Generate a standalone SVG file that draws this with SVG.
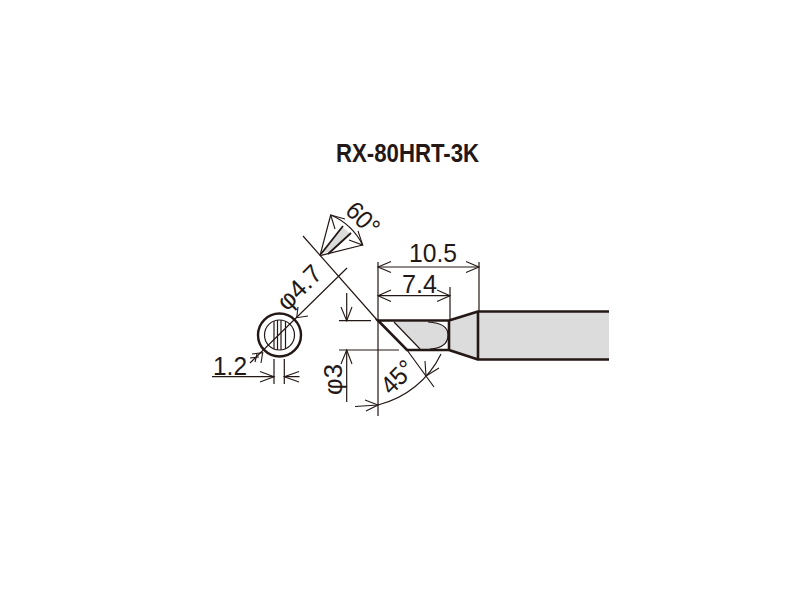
<svg xmlns="http://www.w3.org/2000/svg" width="800" height="600" viewBox="0 0 800 600">
<style>
text{font-family:"Liberation Sans",Arial,sans-serif;fill:#231815}
.t{font-size:25.500px}
.l{fill:none;stroke:#231815;stroke-width:1.2}
.h{fill:none;stroke:#231815;stroke-width:1.1}
.b{fill:none;stroke:#231815;stroke-width:2.6}
.g{fill:#dcdcdc;stroke:none}
</style>
<rect width="800" height="600" fill="#fff"/>
<text x="407.500" y="162" text-anchor="middle" font-size="25" font-weight="700" textLength="143" lengthAdjust="spacingAndGlyphs">RX-80HRT-3K</text>
<g id="tip">
<path class="g" d="M479 312H609V359H479ZM449 321L478 312V359L449 350Z"/>
<path class="g" d="M394 322H428Q448 322 448 335Q448 348 430 349H420Z"/>
<path class="l" d="M394 322L420 349M428 322Q448 323 448 335Q448 348 430 349"/>
<path class="b" d="M609 311.500H478V359.500H609M478 311.500L449 320.500V350L478 359.500M449 320.500H378L407 350H449"/>
</g>
<g id="end-view">
<circle cx="279.500" cy="335" r="21.500" fill="#fff" stroke="#231815" stroke-width="2.400"/>
<circle cx="279.500" cy="335" r="15" class="l"/>
<path class="l" d="M274 321V349M277.500 320V350M281 320V350M285.500 321V349"/>
</g>
<g id="cone">
<path class="g" d="M321 253L342 227L350 233L330 252Z"/>
<path class="b" style="stroke-width:1.800" d="M321 254L343 226M328 254L351 233"/>
</g>
<g id="connectors">
<path class="l" d="M303 236L378 321M347 268L250 363"/>
<path class="l" d="M378 262V416M479 262V312M450 287V321M378 267H479M378 295.700H450M339 320.700H371M339 350H399M346.700 293V320.700M346.700 350V402"/>
<path class="h" d="M391 261.500L378 267L391 272.500M466 261.500L479 267L466 272.500M391 290L378 295.700L391 301.500M437 290L450 295.700L437 301.500M341 307L346.700 320.700L352 307M341 364L346.700 350L352 364"/>
<path class="l" d="M212 376.700H274M284.300 376.700H299.500M274 359V384M284.300 359V384"/>
<path class="h" d="M260 371.500L274 376.700L260 382M299 371.500L284.300 376.700L299 382"/>
<path class="h" d="M308 316L296.700 317.700L298 307M252 354L262.700 352.700L261 363M250 358L259 357M255 362L257 354"/>
<path class="l" d="M320 255.700L330.700 215M320 255.700L362.700 245M330.700 215Q352 224 362.700 245"/>
<path class="h" d="M345 219L330.700 215L335 229M358 231L362.700 245L349 240"/>
<path class="l" d="M407 350L434 387M355 406.500L378 405A95 95 0 0 0 441 354"/>
<path class="h" d="M365 400L378 405L366 411M425 361L426 376L439 368"/>
</g>
<text class="t" x="409" y="262" textLength="48" lengthAdjust="spacingAndGlyphs">10.5</text>
<text class="t" x="402" y="293" textLength="35" lengthAdjust="spacingAndGlyphs">7.4</text>
<text class="t" x="213" y="375" textLength="34" lengthAdjust="spacingAndGlyphs">1.2</text>
<text class="t" transform="translate(342 395) rotate(-90)" textLength="31" lengthAdjust="spacingAndGlyphs">φ3</text>
<text class="t" transform="translate(287 312) rotate(-45)" textLength="52" lengthAdjust="spacingAndGlyphs">φ4.7</text>
<text class="t" transform="translate(391 396) rotate(-45)" textLength="36" lengthAdjust="spacingAndGlyphs">45°</text>
<text class="t" transform="translate(344 212) rotate(45)" textLength="36" lengthAdjust="spacingAndGlyphs">60°</text>
</svg>
